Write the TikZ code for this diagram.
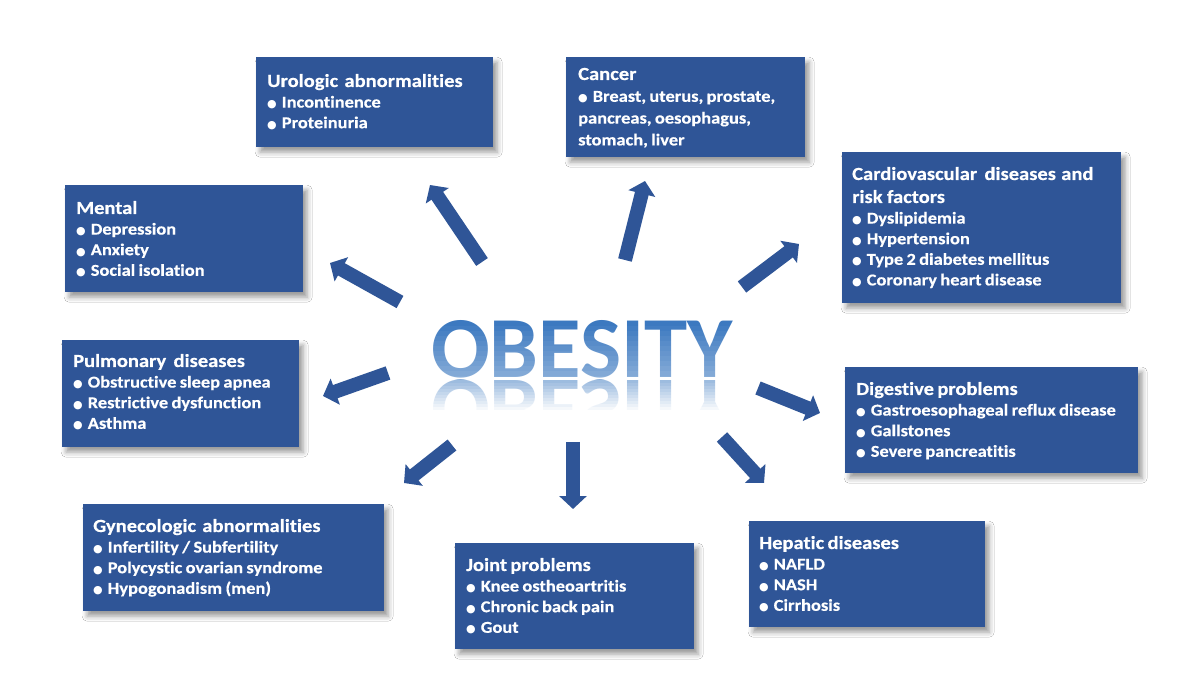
\documentclass[tikz,border=0pt]{standalone}
\usepackage{fontspec}
\setmainfont{Carlito}
\newfontfamily\boxfont{Carlito}[FakeStretch=1.11, FakeBold=0.4, Ligatures=NoCommon]
\newfontfamily\symf{DejaVu Sans}[Scale=0.66]
\usetikzlibrary{arrows.meta,shadows.blur}
\definecolor{boxblue}{HTML}{2F5597}
\definecolor{obblue}{HTML}{3C79C0}
\newcommand\boxtitle{\fontsize{18.5}{23}\selectfont}
\newcommand\boxitem{\fontsize{16.6}{20.6}\selectfont}
\newcommand\boxitemwide{\fontsize{16.6}{21.8}\selectfont}
\newcommand\bul{{\symf ●}\hspace{5pt}}
\begin{document}
\begin{tikzpicture}[x=1pt,y=-1pt,
  box/.style={rectangle, fill=boxblue, draw=none, inner sep=0pt, anchor=north west,
    blur shadow={shadow xshift=4pt, shadow yshift=-5pt, shadow blur radius=5pt, shadow opacity=40}},
  txt/.style={anchor=base west, inner sep=0pt, text width=340pt, align=left, text=white, font=\boxfont\bfseries},
  fat/.style={draw=boxblue, line width=14pt, -{Triangle[width=27pt,length=13pt]}},
  obesity/.style={inner sep=0pt, font=\bfseries\fontsize{87}{87}\selectfont, text=obblue}]
\useasboundingbox (0,0) rectangle (1200,700);
\fill[white] (0,0) rectangle (1200,700);

% central word
\node[obesity, anchor=base] (ob) at (582,378) {OBESITY};
\foreach \i [evaluate=\i as \op using 0.036*\i] in {0,...,11}
  \fill[white, opacity=\op] (420,{321+5*\i}) rectangle (745,{326+5*\i});
\begin{scope}[shift={(582,381)}]
  \node[obesity, anchor=base, yscale=-1, transform shape] (obr) at (0,0) {OBESITY};
\end{scope}
\foreach \i [evaluate=\i as \op using 0.5+0.05*\i] in {0,...,10}
  \fill[white, opacity=\op] (420,{380+3*\i}) rectangle (745,{383+3*\i});
\fill[white] (420,413) rectangle (745,447);

% boxes
\node[box, minimum width=237pt, minimum height=90pt] (uro) at (256,57) {};
\node[box, minimum width=239pt, minimum height=100pt] (can) at (566,57) {};
\node[box, minimum width=279pt, minimum height=151pt] (card) at (842,152) {};
\node[box, minimum width=238pt, minimum height=107pt] (ment) at (65,185) {};
\node[box, minimum width=237pt, minimum height=107pt] (pulm) at (62,340) {};
\node[box, minimum width=293pt, minimum height=106pt] (dig) at (845,367) {};
\node[box, minimum width=301pt, minimum height=107pt] (gyn) at (83,504) {};
\node[box, minimum width=239pt, minimum height=106pt] (joint) at (455,543) {};
\node[box, minimum width=236pt, minimum height=106pt] (hep) at (749,521) {};

% texts
\node[txt] (urot) at (267,87) {{\boxtitle Urologic\hspace{3pt} abnormalities\par}{\boxitem\bul Incontinence\\\bul Proteinuria\par}};
\node[txt] (cant) at (578,80) {{\boxtitle Cancer\par}{\boxitemwide\bul Breast, uterus, prostate,\\pancreas, oesophagus,\\stomach, liver\par}};
\node[txt] (cardt) at (852,180) {{\boxtitle Cardiovascular\hspace{4pt} diseases\hspace{2pt} and\\risk\hspace{1pt} factors\par}{\boxitem\bul Dyslipidemia\\\bul Hypertension\\\bul Type 2 diabetes mellitus\\\bul Coronary heart disease\par}};
\node[txt] (mentt) at (76,214) {{\boxtitle Mental\par}{\boxitem\bul Depression\\\bul Anxiety\\\bul Social isolation\par}};
\node[txt] (pulmt) at (73,367) {{\boxtitle Pulmonary\hspace{4pt} diseases\par}{\boxitem\bul Obstructive sleep apnea\\\bul Restrictive dysfunction\\\bul Asthma\par}};
\node[txt] (digt) at (856,395) {{\boxtitle Digestive problems\par}{\boxitem\bul Gastroesophageal reflux disease\\\bul Gallstones\\\bul Severe pancreatitis\par}};
\node[txt] (gynt) at (93,532) {{\boxtitle Gynecologic\hspace{3pt} abnormalities\par}{\boxitem\bul Infertility / Subfertility\\\bul Polycystic ovarian syndrome\\\bul Hypogonadism (men)\par}};
\node[txt] (jointt) at (466,571) {{\boxtitle Joint problems\par}{\boxitem\bul Knee ostheoartritis\\\bul Chronic back pain\\\bul Gout\par}};
\node[txt] (hept) at (759,549) {{\boxtitle Hepatic diseases\par}{\boxitem\bul NAFLD\\\bul NASH\\\bul Cirrhosis\par}};

% arrow ends
\coordinate (uroA) at (482,262);  \coordinate (uroB) at (430,185);
\coordinate (canA) at (625,260);  \coordinate (canB) at (645,181);
\coordinate (cardA) at (742,287); \coordinate (cardB) at (799,244);
\coordinate (mentA) at (400,302); \coordinate (mentB) at (330,263);
\coordinate (pulmA) at (388,373); \coordinate (pulmB) at (323,396);
\coordinate (digA) at (758,388);  \coordinate (digB) at (820,413);
\coordinate (gynA) at (452,445);  \coordinate (gynB) at (404,483);
\coordinate (jointA) at (573,442); \coordinate (jointB) at (573,509);
\coordinate (hepA) at (722,437);  \coordinate (hepB) at (764,483);

\foreach \n in {uro,can,card,ment,pulm,dig,gyn,joint,hep}
  \draw[fat] (\n A) -- (\n B);
\end{tikzpicture}
\end{document}
